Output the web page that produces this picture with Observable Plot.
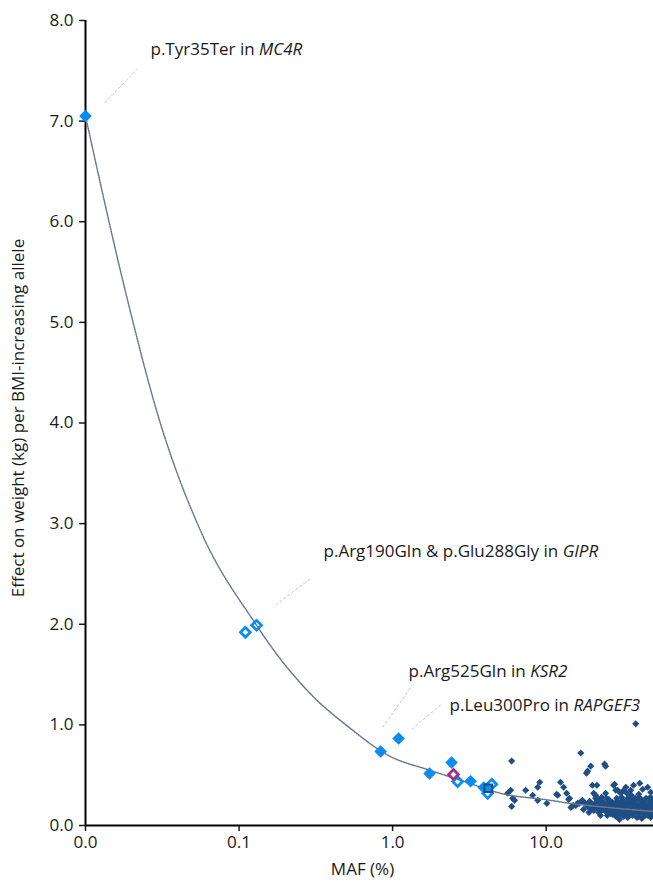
<!DOCTYPE html>
<html><head><meta charset="utf-8">
<script src="https://cdn.jsdelivr.net/npm/d3@7"></script>
<script src="https://cdn.jsdelivr.net/npm/@observablehq/plot@0.6"></script>
<style>
body{margin:0;background:#fff;}
</style></head>
<body><div id="chart"></div>
<script>
// Fitted curve
const curveMAF =    [0.01, 0.0188, 0.03, 0.0561, 0.13, 0.165, 0.3, 0.532, 0.927, 1.74, 2.77, 5.06, 10.7, 14.3, 25, 50];
const curveEffect = [7.05, 5.22,   4.05, 2.93,   1.99, 1.76,  1.29, 0.964, 0.70, 0.55, 0.45, 0.32, 0.25, 0.22, 0.18, 0.14];

// Highlighted variants
const filledMAF =    [0.01, 0.836, 1.094, 1.74, 2.42, 3.22, 3.92];
const filledEffect = [7.05, 0.735, 0.865, 0.517, 0.626, 0.44, 0.378];
const openMAF =    [0.110, 0.130, 2.65, 4.42, 4.16];
const openEffect = [1.92, 1.99, 0.437, 0.41, 0.32];
const magentaMAF = [2.49];
const magentaEffect = [0.507];
const squareMAF = [4.2];
const squareEffect = [0.37];

// Other variants (dark)
const darkMAF = [5.96,5.61,5.87,6.05,6.23,5.96,7.35,8.17,8.81,9.08,8.81,10.1,11.9,12.4,13.0,13.6,14.2,16.0,15.6,
 16.8,19.5,18.6,18.3,24.0,38.3,11.7,14.0,20.0,21.4,20.4,24.4,27.9,29.2,30.6,33.0,35.5,37.1,40.7,42.5,45.8,48.0,
 24.4,27.5,28.4,32.0,33.5,35.9,40.1,48.0,21.0,24.7,22.0,
 18.0,18.6,19.2,19.5,20.0,20.4,20.8,21.2,21.7,22.0,22.4,22.8,23.2,23.6,24.0,24.4,24.8,25.2,25.5,25.9,26.3,26.6,
 27.0,27.5,27.8,28.1,28.4,28.8,29.2,29.5,29.7,30.0,30.3,30.6,31.0,31.4,31.7,32.0,32.4,32.7,33.0,33.4,33.8,34.1,
 34.5,34.9,35.2,35.5,35.9,36.3,36.7,37.1,37.5,37.9,38.3,38.7,39.1,39.5,40.0,40.4,40.8,41.3,41.7,42.1,42.6,43.0,
 43.5,43.9,44.4,44.8,45.3,45.7,46.2,46.7,47.1,47.6,48.1,48.5,49.0,49.5,49.9,
 21.0,23.0,26.0,29.0,31.0,34.0,36.0,38.0,41.0,44.0,47.0,49.0,27.0,32.0,36.5,40.0,44.0,48.0,30.0,28.5,25.0,42.0,
 46.0,39.0,34.0,15.0,16.4,17.2,17.5,14.5,19.0,22.6,26.0,30.0,33.6,37.0,41.0,45.0,49.0,
 20.5,23.4,25.6,28.0,31.2,34.8,38.0,42.0,45.5,48.6];
const darkEffect = [0.64,0.32,0.35,0.27,0.25,0.19,0.35,0.30,0.38,0.43,0.25,0.22,0.30,0.43,0.38,0.32,0.27,0.22,0.20,
 0.72,0.59,0.54,0.52,0.61,1.01,0.31,0.26,0.40,0.40,0.32,0.32,0.41,0.35,0.32,0.38,0.35,0.40,0.42,0.36,0.38,0.33,
 0.59,0.40,0.35,0.35,0.32,0.30,0.31,0.28,0.30,0.27,0.26,
 0.22,0.19,0.24,0.17,0.21,0.15,0.19,0.23,0.17,0.13,0.20,0.25,0.16,0.19,0.22,0.14,0.18,0.21,0.26,0.16,0.12,0.19,
 0.23,0.15,0.18,0.21,0.13,0.27,0.17,0.20,0.10,0.15,0.23,0.18,0.12,0.20,0.25,0.16,0.19,0.14,0.22,0.17,0.11,0.20,
 0.15,0.24,0.18,0.13,0.21,0.16,0.19,0.12,0.23,0.17,0.20,0.14,0.26,0.18,0.15,0.21,0.12,0.19,0.24,0.16,0.20,0.13,
 0.18,0.22,0.15,0.27,0.19,0.12,0.17,0.21,0.14,0.24,0.18,0.11,0.20,0.16,0.22,
 0.27,0.28,0.24,0.24,0.28,0.27,0.25,0.27,0.27,0.25,0.27,0.26,0.11,0.09,0.10,0.09,0.10,0.08,0.06,0.09,0.10,0.07,
 0.10,0.08,0.08,0.20,0.22,0.25,0.16,0.18,0.13,0.10,0.14,0.13,0.12,0.14,0.15,0.13,0.12,
 0.18,0.16,0.20,0.14,0.17,0.19,0.16,0.15,0.17,0.14];

// Annotations
const annText = ["p.Tyr35Ter in ", "p.Arg190Gln & p.Glu288Gly in ", "p.Arg525Gln in ", "p.Leu300Pro in "];
const annGene = ["MC4R", "GIPR", "KSR2", "RAPGEF3"];
const annMAF = [0.0265, 0.355, 1.27, 2.35];
const annEffect = [7.71, 2.72, 1.53, 1.19];
const leadMAF1 = [0.0133, 0.173, 0.861, 1.33];
const leadEffect1 = [7.18, 2.19, 0.974, 0.954];
const leadMAF2 = [0.0218, 0.292, 1.31, 2.06];
const leadEffect2 = [7.52, 2.455, 1.37, 1.20];

const xTicks = [0.01, 0.1, 1, 10];
const yTicks = [0, 1, 2, 3, 4, 5, 6, 7, 8];

const zip = (xs, ys) => xs.map((x, i) => ({x, y: ys[i]}));
const curve = zip(curveMAF, curveEffect);
const filled = zip(filledMAF, filledEffect);
const open = zip(openMAF, openEffect);
const magenta = zip(magentaMAF, magentaEffect);
const square = zip(squareMAF, squareEffect);
const dark = zip(darkMAF, darkEffect);
const ann = annText.map((t, i) => ({t, g: annGene[i], x: annMAF[i], y: annEffect[i],
  x1: leadMAF1[i], y1: leadEffect1[i], x2: leadMAF2[i], y2: leadEffect2[i]}));

const BLUE = "#0a8cf0", NAVY = "#1f4e86", MAG = "#a3307c";
const FONT = "Open Sans";

const svg = Plot.plot({
  width: 653, height: 881,
  marginLeft: 85, marginRight: 0, marginTop: 20, marginBottom: 56,
  style: {fontFamily: FONT, fontSize: "17px", color: "#1a1a1a", background: "white"},
  x: {type: "log", domain: [0.01, 50]},
  y: {domain: [0, 8]},
  marks: [
    Plot.axisY({ticks: yTicks, tickFormat: d => d.toFixed(1), tickSize: 6, tickPadding: 6,
      label: null, fontSize: 17, strokeWidth: 1.5}),
    Plot.axisX({ticks: xTicks, tickFormat: d => d.toFixed(1), tickSize: 6, tickPadding: 4,
      label: null, fontSize: 17, strokeWidth: 1.5}),
    Plot.ruleX([0.01], {y1: 0, y2: 8, stroke: "black", strokeWidth: 2}),
    Plot.ruleY([0], {stroke: "black", strokeWidth: 2}),
    Plot.text(["Effect on weight (kg) per BMI-increasing allele"], {frameAnchor: "left", rotate: -90,
      textAnchor: "middle", dx: -67, dy: -5, fontSize: 17, fill: "#1a1a1a"}),
    Plot.text(["MAF (%)"], {frameAnchor: "bottom", dy: 49, dx: -7, fontSize: 17, fill: "#1a1a1a"}),
    Plot.link(ann, {x1: "x1", y1: "y1", x2: "x2", y2: "y2", stroke: "#c4c4c4", strokeWidth: 1, strokeDasharray: "3,2"}),
    Plot.dot(dark, {x: "x", y: "y", symbol: "diamond2", r: 3.2, fill: NAVY}),
    Plot.line(curve, {x: "x", y: "y", curve: "monotone-x", stroke: "#6c788c", strokeWidth: 1.5, strokeDasharray: "1.2,1.2"}),
    Plot.dot(open, {x: "x", y: "y", symbol: "diamond2", r: 4.4, fill: "none", stroke: BLUE, strokeWidth: 2.8}),
    Plot.dot(filled, {x: "x", y: "y", symbol: "diamond2", r: 5.7, fill: BLUE}),
    Plot.dot(magenta, {x: "x", y: "y", symbol: "diamond2", r: 4.4, fill: "white", stroke: MAG, strokeWidth: 2.8}),
    Plot.dot(square, {x: "x", y: "y", symbol: "square", r: 4.3, fill: BLUE, stroke: NAVY, strokeWidth: 2}),
    Plot.text(ann, {x: "x", y: "y", text: d => d.t + d.g, textAnchor: "start", fontSize: 17, fill: "#1a1a1a"})
  ]
});

d3.select(svg).selectAll("text").each(function() {
  const t = this.textContent;
  const i = annText.findIndex((a, j) => t === a + annGene[j]);
  if (i < 0) return;
  const el = d3.select(this);
  el.text(null);
  el.append("tspan").text(annText[i]);
  el.append("tspan").attr("font-style", "italic").text(annGene[i]);
});

document.getElementById("chart").appendChild(svg);
</script>
</body></html>
